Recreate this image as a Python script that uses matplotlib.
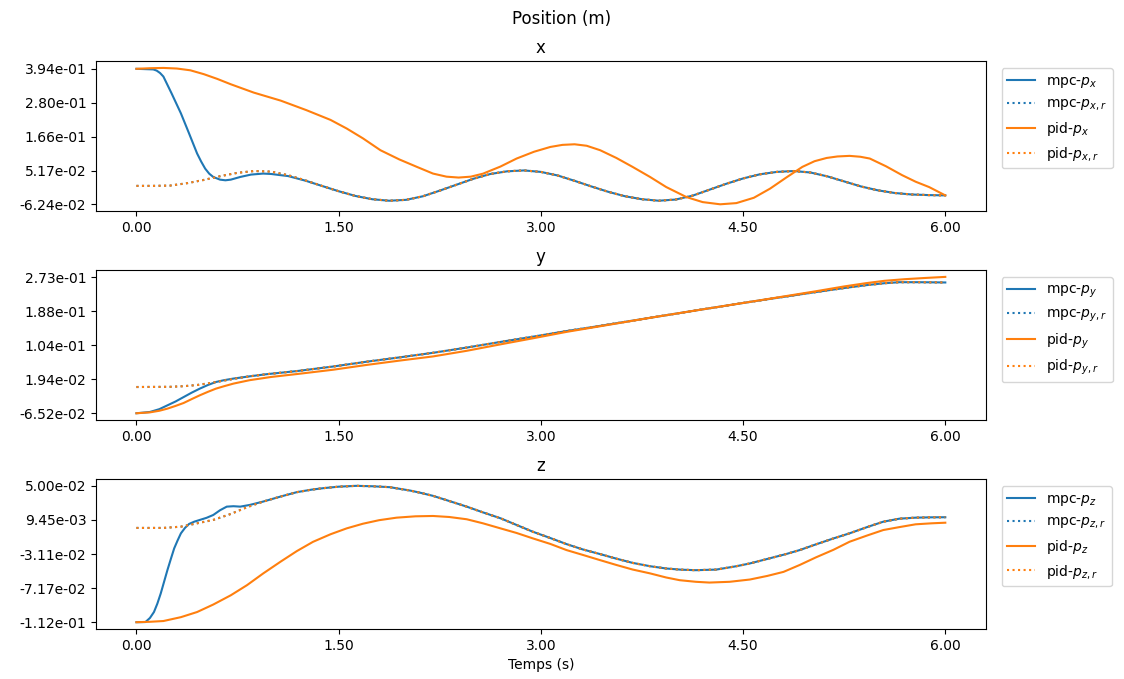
import matplotlib
matplotlib.use("Agg")
import matplotlib.pyplot as plt
from matplotlib.ticker import FormatStrFormatter

# ---------------- data ----------------
# ---- x ----
t_ref_x = [0.0, 0.125, 0.25, 0.375, 0.5, 0.625, 0.75, 0.875, 1.0, 1.125, 1.25, 1.375, 1.5,
           1.625, 1.75, 1.875, 2.0, 2.125, 2.25, 2.375, 2.5, 2.625, 2.75, 2.875, 3.0, 3.125,
           3.25, 3.375, 3.5, 3.625, 3.75, 3.875, 4.0, 4.125, 4.25, 4.375, 4.5, 4.625, 4.75,
           4.875, 5.0, 5.125, 5.25, 5.375, 5.5, 5.625, 5.75, 5.875, 6.0]
ref_x = [0.0, 0.0, 0.001, 0.009, 0.020, 0.033, 0.044, 0.050, 0.048, 0.036, 0.019, 0.000,
         -0.018, -0.034, -0.045, -0.050, -0.047, -0.035, -0.016, 0.004, 0.024, 0.040, 0.049,
         0.052, 0.047, 0.035, 0.017, -0.002, -0.020, -0.035, -0.045, -0.050, -0.046, -0.033,
         -0.013, 0.007, 0.025, 0.039, 0.047, 0.050, 0.045, 0.032, 0.015, -0.002, -0.015,
         -0.024, -0.029, -0.031, -0.032]

t_mpc_x = [0.0, 0.125, 0.15, 0.175, 0.2, 0.26, 0.33, 0.39, 0.45, 0.48, 0.51, 0.54, 0.57,
           0.62, 0.66, 0.7, 0.77, 0.85, 0.94, 1.0, 1.07, 1.125, 1.25, 1.375, 1.5, 1.625, 1.75,
           1.875, 2.0, 2.125, 2.25, 2.375, 2.5, 2.625, 2.75, 2.875, 3.0, 3.125, 3.25, 3.375,
           3.5, 3.625, 3.75, 3.875, 4.0, 4.125, 4.25, 4.375, 4.5, 4.625, 4.75, 4.875, 5.0,
           5.125, 5.25, 5.375, 5.5, 5.625, 5.75, 5.875, 6.0]
mpc_x = [0.394, 0.392, 0.388, 0.380, 0.368, 0.312, 0.244, 0.177, 0.109, 0.082, 0.058, 0.041,
         0.030, 0.021, 0.0188, 0.021, 0.030, 0.038, 0.0414, 0.040, 0.036, 0.033, 0.018, 0.000,
         -0.018, -0.034, -0.045, -0.050, -0.047, -0.035, -0.016, 0.004, 0.024, 0.040, 0.049,
         0.052, 0.047, 0.035, 0.017, -0.002, -0.020, -0.035, -0.045, -0.050, -0.046, -0.033,
         -0.013, 0.007, 0.025, 0.039, 0.047, 0.050, 0.045, 0.032, 0.015, -0.002, -0.015,
         -0.024, -0.029, -0.031, -0.032]

t_pid_x = [0.0, 0.1, 0.2, 0.3, 0.4, 0.5, 0.6, 0.70, 0.87, 1.07, 1.26, 1.44, 1.56, 1.68, 1.81,
           1.95, 2.08, 2.2, 2.3, 2.39, 2.48, 2.57, 2.7, 2.82, 2.95, 3.07, 3.16, 3.25, 3.34,
           3.44, 3.56, 3.68, 3.81, 3.93, 4.08, 4.2, 4.33, 4.45, 4.58, 4.70, 4.82, 4.94, 5.03,
           5.12, 5.2, 5.29, 5.37, 5.44, 5.56, 5.68, 5.78, 5.88, 6.0]
pid_x = [0.394, 0.396, 0.397, 0.395, 0.389, 0.376, 0.360, 0.342, 0.314, 0.287, 0.255, 0.222,
         0.193, 0.160, 0.120, 0.089, 0.064, 0.0414, 0.031, 0.028, 0.031, 0.041, 0.065, 0.092,
         0.115, 0.131, 0.138, 0.140, 0.135, 0.120, 0.094, 0.064, 0.030, -0.004, -0.0377,
         -0.0546, -0.062, -0.058, -0.040, -0.0093, 0.028, 0.064, 0.083, 0.094, 0.099, 0.101,
         0.098, 0.092, 0.066, 0.036, 0.014, -0.004, -0.032]

# ---- y ----
t_ref_y = [0.0, 0.25, 0.35, 0.45, 0.55, 0.65, 0.75, 0.85, 0.97, 1.2, 1.46, 1.71, 1.96, 2.2,
           2.45, 2.7, 2.94, 3.19, 3.44, 3.81, 4.2, 4.55, 4.8, 5.04, 5.25, 5.41, 5.55, 5.66,
           5.8, 6.0]
ref_y = [0.0, 0.0005, 0.002, 0.005, 0.010, 0.016, 0.022, 0.027, 0.032, 0.040, 0.051, 0.063,
         0.074, 0.085, 0.098, 0.112, 0.125, 0.139, 0.152, 0.172, 0.193, 0.2115, 0.224, 0.236,
         0.246, 0.253, 0.258, 0.2605, 0.2605, 0.2598]

t_mpc_y = [0.0, 0.1, 0.17, 0.23, 0.29, 0.35, 0.41, 0.47, 0.53, 0.59, 0.65, 0.72, 0.85, 0.97,
           1.2, 1.46, 1.71, 1.96, 2.2, 2.45, 2.7, 2.94, 3.19, 3.44, 3.81, 4.2, 4.55, 4.8,
           5.04, 5.25, 5.41, 5.55, 5.66, 5.8, 6.0]
mpc_y = [-0.0652, -0.062, -0.055, -0.0455, -0.036, -0.025, -0.014, -0.004, 0.005, 0.0125,
         0.017, 0.021, 0.027, 0.032, 0.040, 0.051, 0.063, 0.074, 0.085, 0.098, 0.112, 0.125,
         0.139, 0.152, 0.172, 0.193, 0.2115, 0.224, 0.236, 0.246, 0.253, 0.258, 0.2605,
         0.2605, 0.2598]

t_pid_y = [0.0, 0.1, 0.17, 0.23, 0.29, 0.35, 0.41, 0.47, 0.53, 0.59, 0.65, 0.72, 0.84, 1.0,
           1.21, 1.46, 1.71, 1.96, 2.2, 2.45, 2.7, 2.94, 3.19, 3.44, 3.81, 4.2, 4.55, 4.8,
           5.04, 5.25, 5.41, 5.55, 5.7, 5.85, 6.0]
pid_y = [-0.0652, -0.063, -0.059, -0.0537, -0.047, -0.0397, -0.030, -0.0206, -0.012, -0.004,
         0.002, 0.0085, 0.017, 0.025, 0.033, 0.043, 0.055, 0.066, 0.076, 0.090, 0.106, 0.121,
         0.137, 0.151, 0.172, 0.193, 0.2115, 0.225, 0.238, 0.250, 0.258, 0.264, 0.268, 0.271,
         0.2737]

# ---- z ----
t_ref_z = [0.0, 0.2, 0.33, 0.45, 0.57, 0.70, 0.82, 0.94, 1.07, 1.19, 1.3, 1.39, 1.5, 1.63,
           1.75, 1.88, 2.03, 2.1, 2.2, 2.32, 2.45, 2.57, 2.70, 2.82, 2.94, 3.07, 3.19, 3.31,
           3.44, 3.56, 3.68, 3.81, 3.93, 4.04, 4.15, 4.3, 4.45, 4.55, 4.7, 4.82, 4.92, 5.05,
           5.17, 5.29, 5.42, 5.54, 5.66, 5.78, 5.9, 6.0]
ref_z = [0.0, 0.0, 0.0015, 0.0055, 0.0095, 0.0166, 0.0246, 0.0313, 0.0373, 0.0425, 0.0455,
         0.0473, 0.049, 0.050, 0.0495, 0.0484, 0.0444, 0.042, 0.0381, 0.032, 0.0253, 0.0185,
         0.0115, 0.0035, -0.0045, -0.012, -0.0192, -0.0255, -0.0311, -0.0365, -0.0415,
         -0.0455, -0.0482, -0.0496, -0.0502, -0.0495, -0.0455, -0.0422, -0.036, -0.031,
         -0.0263, -0.019, -0.0125, -0.0064, 0.001, 0.0074, 0.011, 0.0122, 0.0126, 0.0127]

t_mpc_z = [0.0, 0.067, 0.1, 0.13, 0.155, 0.18, 0.205, 0.23, 0.255, 0.28, 0.305, 0.33, 0.36,
           0.39, 0.43, 0.47, 0.52, 0.57, 0.62, 0.67, 0.72, 0.77, 0.84, 0.94, 1.07, 1.19, 1.3,
           1.39, 1.5, 1.63, 1.75, 1.88, 2.03, 2.1, 2.2, 2.32, 2.45, 2.57, 2.70, 2.82, 2.94,
           3.07, 3.19, 3.31, 3.44, 3.56, 3.68, 3.81, 3.93, 4.04, 4.15, 4.3, 4.45, 4.55, 4.7,
           4.82, 4.92, 5.05, 5.17, 5.29, 5.42, 5.54, 5.66, 5.78, 5.9, 6.0]
mpc_z = [-0.112, -0.1118, -0.107, -0.0999, -0.090, -0.078, -0.064, -0.050, -0.037, -0.0243,
         -0.015, -0.0064, 0.000, 0.0047, 0.0075, 0.0095, 0.012, 0.0154, 0.021, 0.0253, 0.0258,
         0.0253, 0.0273, 0.0313, 0.0373, 0.0425, 0.0455, 0.0473, 0.049, 0.050, 0.0495, 0.0484,
         0.0444, 0.042, 0.0381, 0.032, 0.0253, 0.0185, 0.0115, 0.0035, -0.0045, -0.012,
         -0.0192, -0.0255, -0.0311, -0.0365, -0.0415, -0.0455, -0.0482, -0.0496, -0.0502,
         -0.0495, -0.0455, -0.0422, -0.036, -0.031, -0.0263, -0.019, -0.0125, -0.0064, 0.001,
         0.0074, 0.011, 0.0122, 0.0126, 0.0127]

t_pid_z = [0.0, 0.1, 0.2, 0.33, 0.45, 0.57, 0.70, 0.82, 0.94, 1.07, 1.19, 1.31, 1.44, 1.56,
           1.68, 1.8, 1.93, 2.07, 2.2, 2.32, 2.45, 2.57, 2.70, 2.82, 2.94, 3.07, 3.19, 3.31,
           3.44, 3.56, 3.68, 3.81, 3.93, 4.03, 4.15, 4.25, 4.4, 4.55, 4.68, 4.8, 4.92, 5.04,
           5.17, 5.29, 5.42, 5.54, 5.66, 5.78, 5.9, 6.0]
pid_z = [-0.112, -0.1115, -0.1106, -0.106, -0.0999, -0.091, -0.080, -0.068, -0.0541, -0.040,
         -0.0275, -0.0165, -0.0075, -0.0005, 0.005, 0.0092, 0.0122, 0.0138, 0.0142, 0.013,
         0.0103, 0.0055, -0.0005, -0.006, -0.0124, -0.019, -0.0263, -0.032, -0.0383, -0.044,
         -0.0494, -0.054, -0.0589, -0.0621, -0.064, -0.0649, -0.064, -0.0613, -0.057, -0.0522,
         -0.044, -0.035, -0.026, -0.0164, -0.009, -0.0025, 0.001, 0.0043, 0.0055, 0.0062]

x_ticks = [0.0, 1.5, 3.0, 4.5, 6.0]
yticks_x = [-0.0624, 0.0517, 0.166, 0.280, 0.394]
yticks_y = [-0.0652, 0.0194, 0.104, 0.188, 0.273]
yticks_z = [-0.112, -0.0717, -0.0311, 0.00945, 0.0500]

titles = ["x", "y", "z"]
axis_names = ["x", "y", "z"]

# ---------------- plot ----------------
fig, axes = plt.subplots(3, 1, figsize=(11.24, 6.79), dpi=100)
fig.subplots_adjust(left=0.0854, right=0.877, top=0.910, bottom=0.0736, hspace=0.393)
fig.suptitle("Position (m)", fontsize=12, y=0.985)

series = [
    (t_mpc_x, mpc_x, t_ref_x, ref_x, t_pid_x, pid_x, yticks_x),
    (t_mpc_y, mpc_y, t_ref_y, ref_y, t_pid_y, pid_y, yticks_y),
    (t_mpc_z, mpc_z, t_ref_z, ref_z, t_pid_z, pid_z, yticks_z),
]
blue, orange = "#1f77b4", "#ff7f0e"
for ax, name, title, (tm, m, tr, r, tp, p, yt) in zip(axes, axis_names, titles, series):
    ax.plot(tm, m, color=blue, lw=1.5, label=f"mpc-$p_{name}$")
    ax.plot(tr, r, color=blue, lw=1.5, ls=":", label=f"mpc-$p_{{{name},r}}$")
    ax.plot(tp, p, color=orange, lw=1.5, label=f"pid-$p_{name}$")
    ax.plot(tr, r, color=orange, lw=1.5, ls=":", label=f"pid-$p_{{{name},r}}$")
    ax.set_title(title, fontsize=12)
    ax.set_xticks(x_ticks)
    ax.xaxis.set_major_formatter(FormatStrFormatter("%.2f"))
    ax.set_yticks(yt)
    ax.yaxis.set_major_formatter(FormatStrFormatter("%.2e"))
    ax.legend(loc="upper left", bbox_to_anchor=(1.01, 1.0))
axes[-1].set_xlabel("Temps (s)")

fig.savefig("out.png", dpi=100)
